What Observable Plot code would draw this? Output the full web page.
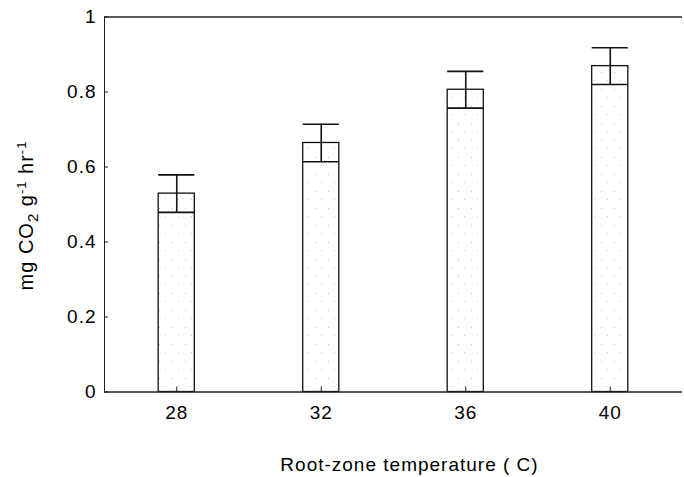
<!DOCTYPE html>
<html><head><meta charset="utf-8">
<script src="https://cdn.jsdelivr.net/npm/d3@7"></script>
<script src="https://cdn.jsdelivr.net/npm/@observablehq/plot@0.6"></script>
<style>body{margin:0;background:#fff}</style>
</head><body><div id="chart"></div>
<script>
// Data
const temperatures = [28, 32, 36, 40];          // Root-zone temperature (C)
const meanRate = [0.529, 0.664, 0.806, 0.869];  // mg CO2 g-1 hr-1
const stdError = [0.050, 0.050, 0.049, 0.049];
const yTicks = [0, 0.2, 0.4, 0.6, 0.8, 1];
const yTickLabels = ["0", "0.2", "0.4", "0.6", "0.8", "1"];
const xTickLabels = ["28", "32", "36", "40"];
const xTitle = "Root-zone temperature ( C)";
const yTitleParts = [["mg CO", "n"], ["2", "sub"], [" g", "n"], ["-1", "sup"], [" hr", "n"], ["-1", "sup"]];

const data = temperatures.map((t, i) => ({t, mean: meanRate[i], se: stdError[i]}));
const yTitlePlain = yTitleParts.map(p => p[0]).join("");

const chart = Plot.plot({
  width: 684, height: 477,
  marginLeft: 104, marginRight: 2, marginTop: 16.5, marginBottom: 85.5,
  style: {fontFamily: '"Liberation Sans", Arial, Helvetica, sans-serif', fontSize: "19px", background: "#fff", color: "#000", letterSpacing: "1px"},
  x: {domain: [26, 42]},
  y: {domain: [0, 1]},
  marks: [
    Plot.rect(data, {x1: d => d.t - 0.5, x2: d => d.t + 0.5, y1: d => 0, y2: "mean", fill: "url(#stipple)", stroke: "#111", strokeWidth: 1.3}),
    Plot.ruleY(data, {y: d => d.mean - d.se, x1: d => d.t - 0.5, x2: d => d.t + 0.5, stroke: "#111", strokeWidth: 1.6}),
    Plot.ruleX(data, {x: "t", y1: d => d.mean - d.se, y2: d => d.mean + d.se, stroke: "#111", strokeWidth: 1.6}),
    Plot.ruleY(data, {y: d => d.mean + d.se, x1: d => d.t - 0.5, x2: d => d.t + 0.5, stroke: "#111", strokeWidth: 1.6}),
    Plot.ruleX([26], {stroke: "#222", strokeWidth: 1}),
    Plot.ruleY([0], {stroke: "#222", strokeWidth: 1.3}),
    Plot.ruleY([1], {stroke: "#222", strokeWidth: 1.3}),
    Plot.axisY({ticks: yTicks, tickFormat: d => yTickLabels[yTicks.indexOf(d)], tickSize: -4, tickPadding: 12, label: null, stroke: "#222"}),
    Plot.axisX({ticks: temperatures, tickFormat: d => xTickLabels[temperatures.indexOf(d)], tickSize: -5, tickPadding: 18, label: null, stroke: "#222"}),
    Plot.text([xTitle], {frameAnchor: "bottom", lineAnchor: "bottom", dx: 16, dy: 78.5, fontSize: 19}),
    Plot.text([yTitlePlain], {frameAnchor: "left", rotate: -90, textAnchor: "middle", dx: -78, dy: 11, fontSize: 20})
  ]
});

// stipple pattern for bar fill
chart.insertAdjacentHTML("afterbegin",
  '<defs><pattern id="stipple" width="13" height="17" patternUnits="userSpaceOnUse">' +
  '<rect width="13" height="17" fill="#fff"/>' +
  '<rect x="3" y="4" width="1" height="1" fill="#c4c4c4"/>' +
  '<rect x="9" y="12" width="1" height="1" fill="#d0d0d0"/>' +
  '</pattern></defs>');

// rich text (sub/superscripts) for the y title
for (const t of chart.querySelectorAll("text")) {
  if (t.textContent === yTitlePlain) {
    t.textContent = "";
    t.setAttribute("text-anchor", "middle");
    let shift = 0;
    for (const [s, kind] of yTitleParts) {
      const ts = document.createElementNS("http://www.w3.org/2000/svg", "tspan");
      const target = kind === "sub" ? 5 : kind === "sup" ? -7 : 0;
      ts.setAttribute("dy", target - shift);
      shift = target;
      if (kind !== "n") ts.setAttribute("font-size", kind === "sub" ? 15 : 13);
      ts.textContent = s;
      t.appendChild(ts);
    }
  }
}
document.getElementById("chart").appendChild(chart);
</script>
</body></html>
